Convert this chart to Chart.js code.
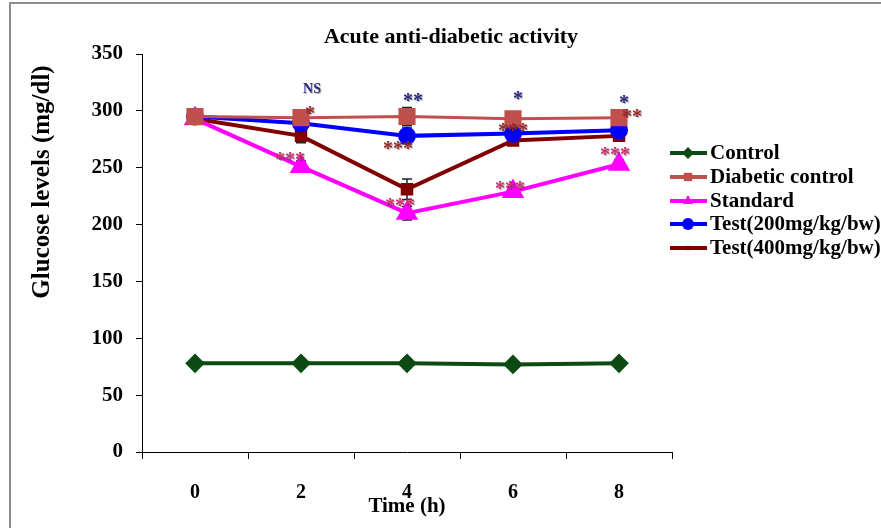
<!DOCTYPE html>
<html>
<head>
<meta charset="utf-8">
<script src="https://cdn.jsdelivr.net/npm/chart.js@4/dist/chart.umd.min.js"></script>
<style>
  html, body { margin: 0; padding: 0; background: #fff; }
  #wrap { width: 881px; height: 528px; }
</style>
</head>
<body>
<div id="wrap"><canvas id="chart" width="881" height="528"></canvas></div>
<script>
// datos
const horas = ['0', '2', '4', '6', '8'];
const control = [78, 78, 78, 77, 78];
const diabetico = [295, 294, 295, 293, 294];
const estandar = [293, 251, 210, 229, 253];
const test200 = [295, 289, 278, 280, 283];
const test400 = [293, 278, 231, 274, 278];

// error estandar (solo se ven las tapas)
const errControl = [2, 3, 4, 3, 3];
const errDiabetico = [2, 2, 8, 2, 2];
const errEstandar = [2, 5, 6, 4, 4];
const errTest200 = [2, 7, 7, 3, 2];
const errTest400 = [2, 6, 9, 3, 3];

const nombres = ['Control', 'Diabetic control', 'Standard', 'Test(200mg/kg/bw)', 'Test(400mg/kg/bw)'];

const SERIF = '"Liberation Serif", "Times New Roman", serif';

// asteriscos de significancia: serie, punto, texto, desplazamiento en px, color
const NAVY = '#2b2b85';
const ROJO = '#9a2b2b';
const ROSA = '#cc3373';
const marcas = [
  { ds: 1, i: 1, txt: 'NS', dx: 11, dy: -28, color: NAVY, font: 'bold 14px ' + SERIF },
  { ds: 1, i: 1, txt: '*', dx: 9, dy: -7, color: ROJO },
  { ds: 1, i: 2, txt: '**', dx: 6, dy: -19, color: NAVY },
  { ds: 3, i: 2, txt: '***', dx: -9, dy: 10, color: ROJO },
  { ds: 2, i: 1, txt: '***', dx: -11, dy: -10, color: ROSA },
  { ds: 2, i: 2, txt: '***', dx: -7, dy: -10, color: ROSA },
  { ds: 1, i: 3, txt: '*', dx: 5, dy: -23, color: NAVY },
  { ds: 3, i: 3, txt: '***', dx: 0, dy: -6, color: ROJO },
  { ds: 2, i: 3, txt: '***', dx: -3, dy: -6, color: ROSA },
  { ds: 1, i: 4, txt: '*', dx: 5, dy: -18, color: NAVY },
  { ds: 1, i: 4, txt: '**', dx: 13, dy: -4, color: ROJO },
  { ds: 2, i: 4, txt: '***', dx: -4, dy: -12, color: ROSA }
];

function serie(label, data, err, color, estilo, radio, ancho) {
  return {
    label: label,
    data: data,
    err: err,
    borderColor: color,
    backgroundColor: color,
    pointBackgroundColor: color,
    pointBorderColor: color,
    borderWidth: ancho,
    pointStyle: estilo,
    pointRadius: radio,
    pointHoverRadius: radio,
    tension: 0
  };
}

const datasets = [
  serie(nombres[0], control, errControl, '#0b4a12', 'rectRot', 7, 4),
  serie(nombres[1], diabetico, errDiabetico, '#c0504d', 'rect', 10, 3),
  serie(nombres[2], estandar, errEstandar, '#ff00ff', 'triangle', 9, 4),
  serie(nombres[3], test200, errTest200, '#0000ff', 'circle', 7, 4),
  serie(nombres[4], test400, errTest400, '#800000', 'rect', 6, 4)
];

const marco = {
  id: 'marco',
  beforeDraw(chart) {
    const ctx = chart.ctx;
    ctx.save();
    ctx.fillStyle = '#fff';
    ctx.fillRect(0, 0, chart.width, chart.height);
    ctx.strokeStyle = '#8c8c8c';
    ctx.lineWidth = 2;
    ctx.beginPath();
    ctx.moveTo(10, chart.height);
    ctx.lineTo(10, 3);
    ctx.lineTo(chart.width, 3);
    ctx.stroke();
    ctx.restore();
  }
};

const barrasError = {
  id: 'barrasError',
  beforeDatasetsDraw(chart) {
    const ctx = chart.ctx;
    const x = chart.scales.x, y = chart.scales.y;
    ctx.save();
    ctx.strokeStyle = '#222';
    ctx.lineWidth = 1.5;
    chart.data.datasets.forEach(ds => {
      ds.data.forEach((v, i) => {
        const px = x.getPixelForValue(i);
        const top = y.getPixelForValue(v + ds.err[i]);
        const bot = y.getPixelForValue(v - ds.err[i]);
        ctx.beginPath();
        ctx.moveTo(px, top); ctx.lineTo(px, bot);
        ctx.moveTo(px - 5, top); ctx.lineTo(px + 5, top);
        ctx.moveTo(px - 5, bot); ctx.lineTo(px + 5, bot);
        ctx.stroke();
      });
    });
    ctx.restore();
  }
};

const textos = {
  id: 'textos',
  afterDraw(chart) {
    const ctx = chart.ctx;
    const x = chart.scales.x, y = chart.scales.y;
    ctx.save();
    ctx.fillStyle = '#000';
    ctx.textAlign = 'center';
    ctx.textBaseline = 'middle';

    // titulo
    ctx.font = 'bold 22px ' + SERIF;
    ctx.fillText('Acute anti-diabetic activity', 451, 37);

    // titulo eje y
    ctx.save();
    ctx.translate(43, 182);
    ctx.rotate(-Math.PI / 2);
    ctx.font = 'bold 25px ' + SERIF;
    ctx.fillText('Glucose levels (mg/dl)', 0, 0);
    ctx.restore();

    // titulo eje x
    ctx.font = 'bold 21px ' + SERIF;
    ctx.fillText('Time (h)', 407, 507);

    // asteriscos
    marcas.forEach(m => {
      const ds = chart.data.datasets[m.ds];
      const px = x.getPixelForValue(m.i) + m.dx;
      const py = y.getPixelForValue(ds.data[m.i]) + m.dy;
      ctx.save();
      ctx.shadowColor = 'rgba(0,0,0,0.35)';
      ctx.shadowOffsetX = 1;
      ctx.shadowOffsetY = 1;
      ctx.shadowBlur = 1;
      ctx.fillStyle = m.color;
      if (m.font) {
        ctx.font = m.font;
        ctx.fillText(m.txt, px, py);
      } else {
        ctx.font = 'bold 20px ' + SERIF;
        ctx.textBaseline = 'alphabetic';
        ctx.fillText(m.txt, px, py + 9);
      }
      ctx.restore();
    });

    // leyenda
    const filas = [153, 177, 201, 224, 248];
    ctx.textAlign = 'left';
    ctx.font = 'bold 21px ' + SERIF;
    chart.data.datasets.forEach((ds, k) => {
      const ly = filas[k];
      ctx.strokeStyle = ds.borderColor;
      ctx.fillStyle = ds.borderColor;
      ctx.lineWidth = 4;
      ctx.beginPath();
      ctx.moveTo(670, ly);
      ctx.lineTo(707, ly);
      ctx.stroke();
      const r = k === 4 ? 3 : Math.min(ds.pointRadius, 7) * 0.85;
      Chart.helpers.drawPoint(ctx, { pointStyle: ds.pointStyle, radius: r, rotation: 0, borderWidth: 0 }, 688, ly);
      ctx.fillStyle = '#000';
      ctx.fillText(ds.label, 710, ly + 1);
    });
    ctx.restore();
  }
};

new Chart(document.getElementById('chart'), {
  type: 'line',
  data: { labels: horas, datasets: datasets },
  options: {
    responsive: false,
    animation: false,
    layout: { padding: { top: 54, right: 209, left: 0, bottom: 0 } },
    plugins: {
      legend: { display: false },
      title: { display: false },
      tooltip: { enabled: false }
    },
    scales: {
      x: {
        type: 'category',
        offset: true,
        grid: { offset: true, drawOnChartArea: false, drawTicks: true, tickLength: 7, color: '#000' },
        border: { display: true, color: '#000', width: 1 },
        ticks: { color: '#000', padding: 22, font: { family: SERIF, size: 20, weight: 'bold' } },
        afterFit(scale) { scale.height = 76; }
      },
      y: {
        min: 0,
        max: 350,
        ticks: { stepSize: 50, color: '#000', padding: 13, font: { family: SERIF, size: 21, weight: 'bold' } },
        grid: { drawOnChartArea: false, drawTicks: true, tickLength: 6, color: '#000' },
        border: { display: true, color: '#000', width: 1 },
        afterFit(scale) { scale.width = 142; }
      }
    }
  },
  plugins: [marco, barrasError, textos]
});
</script>
</body>
</html>
